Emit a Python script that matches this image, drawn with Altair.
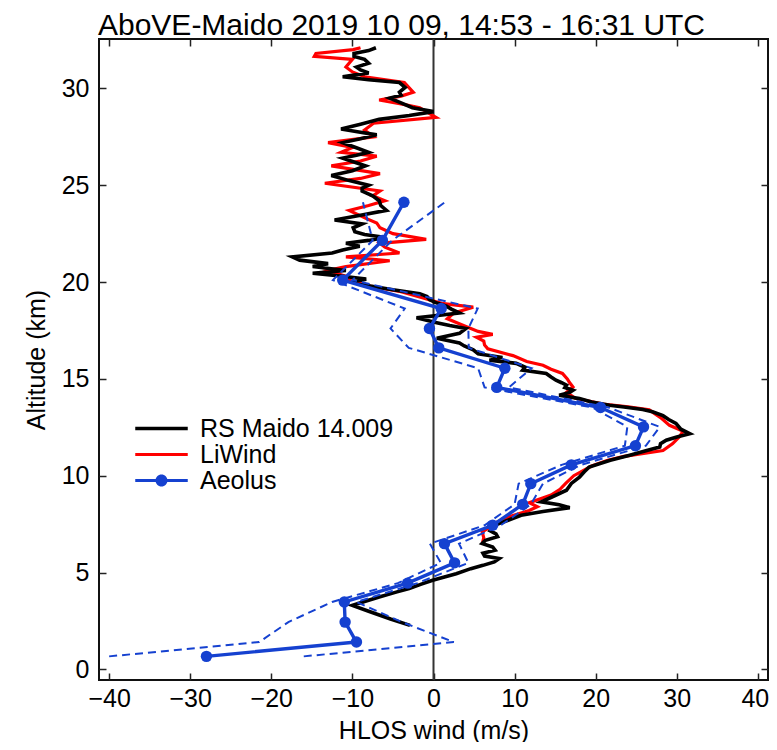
import altair as alt
import pandas as pd

# ---------------- data ----------------
rs_alt = [2.27, 2.6, 3.0, 3.3, 3.5, 3.74, 4.0, 4.17, 4.4, 4.6, 4.94, 5.2, 5.37, 5.55, 5.72, 5.85,
          6.0, 6.15, 6.32, 6.5, 6.66, 6.85, 7.0, 7.15, 7.27, 7.5, 7.7, 7.96, 8.15, 8.35, 8.5, 8.65,
          8.9, 9.25, 9.6, 9.93, 10.2, 10.45, 10.8, 11.06, 11.3, 11.48, 11.65, 11.83, 12.0, 12.17,
          12.4, 12.7, 12.9, 13.1, 13.3, 13.42, 13.55, 13.64, 13.8, 13.98, 14.15, 14.3, 14.41, 14.55,
          14.67, 14.8, 14.93, 15.1, 15.28, 15.45, 15.6, 15.8, 15.96, 16.1, 16.3, 16.5, 16.7, 16.85,
          17.1, 17.35, 17.6, 17.75, 17.9, 18.15, 18.4, 18.6, 18.75, 18.95, 19.1, 19.25, 19.4, 19.6,
          19.8, 20.0, 20.15, 20.3, 20.45, 20.6, 20.8, 20.95, 21.13, 21.3, 21.5, 21.65, 21.85, 22.0,
          22.15, 22.3, 22.45, 22.6, 22.8, 23.0, 23.2, 23.45, 23.7, 23.95, 24.2, 24.45, 24.7, 24.85,
          25.0, 25.25, 25.5, 25.75, 26.0, 26.2, 26.4, 26.55, 26.7, 26.95, 27.2, 27.4, 27.6, 27.75,
          27.9, 28.15, 28.4, 28.6, 28.8, 29.0, 29.25, 29.5, 29.65, 29.8, 30.05, 30.3, 30.45, 30.6,
          30.8, 30.95, 31.1, 31.3, 31.5, 31.65, 31.8, 31.95, 32.1]
rs_wind = [-2.9, -5.3, -8.0, -10.0, -8.5, -6.7, -4.5, -3.0, -1.5, -0.1, 2.8, 4.6, 6.1, 7.5, 8.1, 6.3,
           6.1, 7.6, 7.3, 6.0, 6.4, 7.9, 7.7, 7.0, 7.3, 7.9, 9.2, 10.8, 13.5, 16.8, 15.5, 13.3,
           14.6, 16.4, 17.0, 18.0, 18.6, 19.2, 21.8, 24.2, 26.3, 27.9, 28.0, 28.7, 30.0, 31.6,
           30.5, 29.9, 29.0, 28.3, 27.0, 25.8, 23.5, 21.7, 19.5, 18.0, 15.5, 16.8, 17.2, 16.2,
           16.4, 15.8, 15.1, 14.5, 13.9, 11.0, 11.3, 10.2, 6.9, 8.5, 5.5, 4.9, 3.8, 3.2,
           0.4, 3.2, 4.0, 2.0, 0.4, -2.1, 3.2, 2.2, 1.6, 0.2, -0.5, -0.8, -1.7, -5.0,
           -7.8, -10.0, -8.3, -11.2, -14.9, -10.8, -14.9, -13.0, -16.5, -17.4, -12.5, -11.2, -9.1, -10.8,
           -8.0, -5.9, -8.5, -9.7, -9.9, -8.8, -12.2, -9.0, -5.8, -6.5, -6.7, -7.5, -8.8, -8.8,
           -8.0, -10.5, -12.6, -10.0, -8.4, -9.8, -11.2, -9.5, -8.0, -9.6, -11.2, -9.0, -7.0, -9.2,
           -11.4, -9.0, -6.7, -3.0, 0.0, -2.6, -4.0, -5.4, -4.0, -4.2, -3.5, -4.2, -8.0, -11.2,
           -8.0, -9.0, -9.5, -8.0, -8.5, -9.8, -9.8, -8.0, -7.1]

lw_alt = [6.45, 6.8, 7.1, 7.3, 7.5, 7.9, 8.2, 8.4, 8.6, 9.0, 9.3, 9.6, 10.0, 10.5, 10.8, 11.0,
          11.3, 11.66, 12.0, 12.3, 12.6, 13.0, 13.4, 13.55, 13.7, 14.0, 14.3, 14.58, 14.8, 15.0,
          15.28, 15.5, 15.7, 15.9, 16.2, 16.55, 16.75, 16.95, 17.15, 17.3, 17.45, 17.7, 18.1, 18.4,
          18.7, 18.9, 19.2, 19.5, 19.8, 20.1, 20.3, 20.6, 20.8, 21.1, 21.3, 21.5, 21.8, 22.0,
          22.2, 22.5, 22.8, 23.05, 23.3, 23.7, 23.95, 24.2, 24.45, 24.7, 25.1, 25.35, 25.6, 26.0,
          26.25, 26.5, 26.7, 26.95, 27.2, 27.5, 27.85, 28.2, 28.5, 29.0, 29.2, 29.4, 29.6, 29.8,
          30.3, 30.6, 30.85, 31.1, 31.5, 31.65, 31.8, 32.0, 32.1]
lw_wind = [6.0, 6.2, 6.0, 6.8, 7.3, 9.5, 11.8, 12.8, 11.8, 14.5, 15.6, 16.3, 17.3, 19.5, 21.5, 23.5,
           28.3, 29.5, 30.3, 30.8, 29.1, 28.0, 26.6, 24.0, 20.9, 17.5, 16.4, 17.2, 16.8, 16.5,
           15.9, 14.5, 13.5, 11.5, 9.8, 6.7, 6.3, 6.2, 5.3, 7.3, 5.5, 4.0, 1.7, 2.5,
           4.9, 1.0, -1.5, -4.0, -8.0, -10.5, -10.8, -13.0, -10.8, -5.4, -10.8, -4.2, -6.0, -6.6,
           -0.9, -5.0, -6.6, -7.0, -8.4, -10.4, -8.0, -6.0, -7.5, -6.6, -13.4, -9.0, -6.6, -12.6,
           -9.0, -7.0, -11.4, -10.0, -13.0, -7.4, -8.5, -7.4, 0.3, -1.7, -4.0, -6.7, -4.0, -2.5,
           -3.6, -8.5, -10.0, -10.8, -10.0, -14.7, -14.5, -9.9, -9.0]

ae_alt = [0.67, 1.41, 2.44, 3.48, 4.45, 5.5, 6.49, 7.44, 8.52, 9.59, 10.56, 11.55, 12.52, 13.52,
          14.56, 15.55, 16.6, 17.6, 18.63, 20.1, 22.15, 24.12]
ae_wind = [-28.0, -9.5, -10.9, -11.0, -3.2, 2.6, 1.35, 7.3, 11.0, 12.0, 17.0, 24.9, 25.9, 20.6,
           7.8, 8.8, 0.65, -0.5, 0.95, -11.2, -6.3, -3.65]
ae_err = [12.0, 12.0, 7.0, 1.5, 1.2, 1.7, 1.8, 1.0, 1.0, 1.5, 1.2, 1.3, 2.0, 1.0,
          1.5, 3.3, 3.7, 4.8, 4.5, 1.2, 1.2, 5.05]

series = ["RS Maido 14.009", "LiWind", "Aeolus"]
series_colors = ["#000000", "#ff0000", "#1541d0"]
series_symbols = [
    "M-3.5,-0.22H3.5V0.22H-3.5Z",
    "M-3.5,-0.2H3.5V0.2H-3.5Z",
    "M-3.5,-0.2H3.5V0.2H-3.5Z M0.8,0A0.8,0.8,0,1,1,-0.8,0A0.8,0.8,0,1,1,0.8,0Z",
]
x_ticks = [-40, -30, -20, -10, 0, 10, 20, 30, 40]
y_ticks = [0, 5, 10, 15, 20, 25, 30]
title_text = "AboVE-Maido 2019 10 09, 14:53 - 16:31 UTC"

# ---------------- tables ----------------
rs = pd.DataFrame({"alt": rs_alt, "wind": rs_wind})
lw = pd.DataFrame({"alt": lw_alt, "wind": lw_wind})
ae = pd.DataFrame({"alt": ae_alt, "wind": ae_wind,
                   "lo": [w - e for w, e in zip(ae_wind, ae_err)],
                   "hi": [w + e for w, e in zip(ae_wind, ae_err)]})
zero_df = pd.DataFrame({"v": [0]})
leg_df = pd.DataFrame({"series": series})

W, H = 669, 641
FONT = "Liberation Sans"
BLUE = series_colors[2]
xs = alt.Scale(domain=[-41.25, 41.25], nice=False, zero=False)
ys = alt.Scale(domain=[-0.55, 32.55], nice=False, zero=False)

tick_style = dict(ticks=True, tickSize=7, tickWidth=1.5, tickColor="#222",
                  labels=False, domain=False, grid=False, title=None)

zero = alt.Chart(zero_df).mark_rule(color="#333333", strokeWidth=2).encode(
    x=alt.X("v:Q", scale=xs, axis=None))

rs_line = alt.Chart(rs).mark_line(color="#000000", strokeWidth=3.6).encode(
    x=alt.X("wind:Q", scale=xs,
            axis=alt.Axis(orient="bottom", values=x_ticks, ticks=False, tickSize=0, domain=False,
                          grid=False, labelFontSize=25, labelPadding=6,
                          labelOffset={"condition": {"test": "datum.value == 40", "value": -3},
                                       "value": 0},
                          title="HLOS wind (m/s)", titleFontSize=25, titlePadding=7,
                          titleFontWeight="normal")),
    y=alt.Y("alt:Q", scale=ys,
            axis=alt.Axis(orient="left", values=y_ticks, ticks=False, tickSize=0, domain=False,
                          grid=False, labelFontSize=25, labelPadding=10,
                          title="Altitude (km)", titleFontSize=25, titlePadding=12,
                          titleFontWeight="normal")),
    order=alt.Order("alt:Q"))

lw_line = alt.Chart(lw).mark_line(color="#ff0000", strokeWidth=3.2).encode(
    x=alt.X("wind:Q", scale=xs, axis=alt.Axis(orient="top", offset=-H, values=x_ticks, **tick_style)),
    y=alt.Y("alt:Q", scale=ys, axis=alt.Axis(orient="right", offset=-W, values=y_ticks, **tick_style)),
    order=alt.Order("alt:Q"))

ae_lo = alt.Chart(ae).mark_line(color=BLUE, strokeWidth=2, strokeDash=[8, 5]).encode(
    x=alt.X("lo:Q", scale=xs, axis=None),
    y=alt.Y("alt:Q", scale=ys, axis=None),
    order=alt.Order("alt:Q"))
ae_hi = alt.Chart(ae).mark_line(color=BLUE, strokeWidth=2, strokeDash=[8, 5]).encode(
    x=alt.X("hi:Q", scale=xs, axis=None),
    y=alt.Y("alt:Q", scale=ys, axis=None),
    order=alt.Order("alt:Q"))

ae_line = alt.Chart(ae).mark_line(color=BLUE, strokeWidth=3.4).encode(
    x=alt.X("wind:Q", scale=xs, axis=alt.Axis(orient="bottom", offset=-H, values=x_ticks, **tick_style)),
    y=alt.Y("alt:Q", scale=ys, axis=alt.Axis(orient="left", offset=-W, values=y_ticks, **tick_style)),
    order=alt.Order("alt:Q"))

ae_pts = alt.Chart(ae).mark_circle(color=BLUE, size=130, opacity=1).encode(
    x=alt.X("wind:Q", scale=xs, axis=None),
    y=alt.Y("alt:Q", scale=ys, axis=None))

legend_layer = alt.Chart(leg_df).mark_point(filled=True, opacity=0, size=10).encode(
    color=alt.Color("series:N", scale=alt.Scale(domain=series, range=series_colors),
                    legend=alt.Legend(title=None)),
    shape=alt.Shape("series:N", scale=alt.Scale(domain=series, range=series_symbols),
                    legend=alt.Legend(title=None)))

chart = alt.layer(zero, lw_line, rs_line, ae_lo, ae_hi, ae_line, ae_pts, legend_layer).resolve_axis(
    x="independent", y="independent"
).properties(
    width=W, height=H,
    title=alt.TitleParams(text=title_text, fontSize=30, font=FONT, fontWeight="normal",
                          anchor="middle", dx=-32, dy=3, offset=0, color="black"),
    autosize=alt.AutoSizeParams(type="none"),
    padding={"left": 91, "top": 31, "right": 1, "bottom": 62},
).configure_view(
    stroke="#111111", strokeWidth=2
).configure_axis(
    labelFont=FONT, titleFont=FONT, labelColor="black", titleColor="black"
).configure_legend(
    orient="none", legendX=50, legendY=377, padding=0, rowPadding=-2,
    labelFont=FONT, labelFontSize=25, labelColor="black", labelOffset=26, labelLimit=500,
    symbolSize=225, symbolOpacity=1, symbolStrokeWidth=0, symbolFillColor=BLUE
)

chart.save("out.html", embed_options={"renderer": "svg", "actions": False})
